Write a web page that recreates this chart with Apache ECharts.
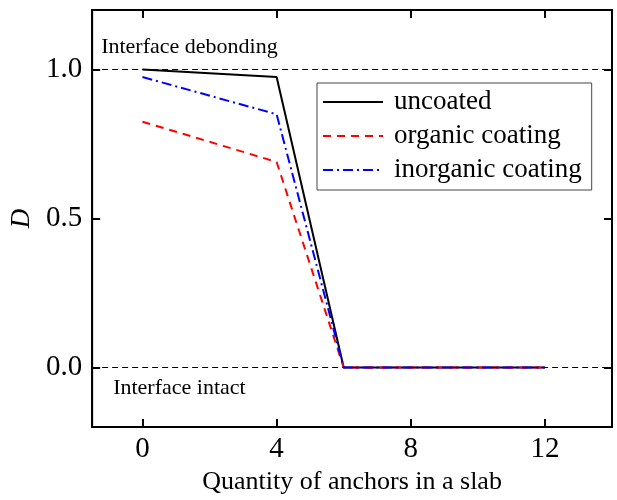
<!DOCTYPE html>
<html><head><meta charset="utf-8">
<script src="https://cdn.jsdelivr.net/npm/echarts@6/dist/echarts.min.js"></script>
<style>html,body{margin:0;padding:0;background:#fff}#c{width:617px;height:500px}</style>
</head><body><div id="c"></div>
<script>
const xValues = [0, 4, 6, 8, 10, 12];
const uncoated = [1.0, 0.975, 0, 0, 0, 0];
const organic = [0.825, 0.69, 0, 0, 0, 0];
const inorganic = [0.975, 0.85, 0, 0, 0, 0];
const xTicks = [0, 4, 8, 12];
const yTicks = [0, 0.5, 1.0];
const seriesNames = ['uncoated', 'organic coating', 'inorganic coating'];

const F = 'Liberation Serif';
const chart = echarts.init(document.getElementById('c'), null, {renderer: 'canvas'});
const pairs = arr => xValues.map((x, i) => [x, arr[i]]);

const axisCommon = {
  type: 'value', splitLine: {show: false},
  axisLine: {show: true, onZero: false, lineStyle: {color: '#000', width: 2}},
};
const option = {
  animation: false,
  backgroundColor: '#fff',
  grid: {left: 90, right: 5, top: 10, bottom: 70, show: true, borderColor: '#000', borderWidth: 2},
  xAxis: [
    Object.assign({}, axisCommon, {min: -1.5, max: 14, position: 'bottom',
      axisTick: {inside: true, length: 8, customValues: xTicks, lineStyle: {color: '#000', width: 2}},
      axisLabel: {customValues: xTicks, fontSize: 29, fontFamily: F, color: '#000', margin: 8},
      name: 'Quantity of anchors in a slab', nameLocation: 'middle', nameGap: 37,
      nameTextStyle: {fontSize: 26, fontFamily: F, color: '#000'}}),
    Object.assign({}, axisCommon, {min: -1.5, max: 14, position: 'top',
      axisTick: {inside: true, length: 8, customValues: xTicks, lineStyle: {color: '#000', width: 2}},
      axisLabel: {show: false}})
  ],
  yAxis: [
    Object.assign({}, axisCommon, {min: -0.2, max: 1.2, position: 'left',
      axisTick: {inside: true, length: 8, customValues: yTicks, lineStyle: {color: '#000', width: 2}},
      axisLabel: {customValues: yTicks, fontSize: 29, fontFamily: F, color: '#000', margin: 10,
        formatter: v => v.toFixed(1)},
      name: 'D', nameLocation: 'middle', nameGap: 46,
      nameTextStyle: {fontSize: 27, fontFamily: F, fontStyle: 'italic', color: '#000'}}),
    Object.assign({}, axisCommon, {min: -0.2, max: 1.2, position: 'right',
      axisTick: {inside: true, length: 8, customValues: yTicks, lineStyle: {color: '#000', width: 2}},
      axisLabel: {show: false}})
  ],
  legend: {
    orient: 'vertical', left: 317, top: 83, data: seriesNames,
    borderColor: '#444', borderWidth: 1, padding: [4, 10, 5, 5], itemGap: 4,
    itemWidth: 60, itemHeight: 14,
    itemStyle: {opacity: 0, borderWidth: 0},
    textStyle: {fontSize: 27, fontFamily: F, color: '#000', lineHeight: 30, padding: [0, 0, 0, 6]}
  },
  series: [
    {name: 'uncoated', type: 'line', data: pairs(uncoated), symbol: 'none',
      lineStyle: {color: '#000', width: 2}, itemStyle: {color: '#000'}, z: 3,
      markLine: {silent: true, symbol: 'none', label: {show: false},
        lineStyle: {color: '#000', width: 1, type: [6, 4]},
        data: [{yAxis: 1}, {yAxis: 0}]}},
    {name: 'organic coating', type: 'line', data: pairs(organic), symbol: 'none',
      lineStyle: {color: '#ff0000', width: 2, type: [8, 6]}, itemStyle: {color: '#ff0000'}, z: 4},
    {name: 'inorganic coating', type: 'line', data: pairs(inorganic), symbol: 'none',
      lineStyle: {color: '#0000ff', width: 2, type: [10, 4, 2, 4]}, itemStyle: {color: '#0000ff'}, z: 5}
  ]
};
chart.setOption(option);
const p1 = chart.convertToPixel({gridIndex: 0}, [-1.5, 1]);
const p0 = chart.convertToPixel({gridIndex: 0}, [-1.5, 0]);
chart.setOption({graphic: [
  {type: 'text', left: p1[0] + 9, top: p1[1] - 33, style: {text: 'Interface debonding', font: '22px "Liberation Serif"', fill: '#000'}},
  {type: 'text', left: p0[0] + 21, top: p0[1] + 10, style: {text: 'Interface intact', font: '22px "Liberation Serif"', fill: '#000'}}
]});
</script></body></html>
